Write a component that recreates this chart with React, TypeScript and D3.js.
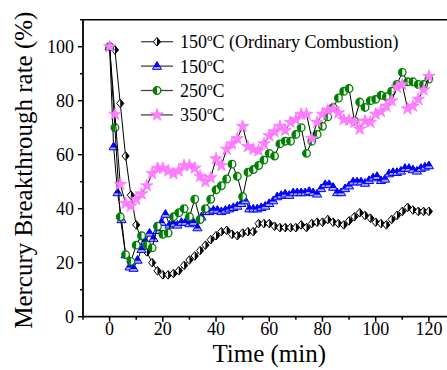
import React from "react";
import * as d3 from "d3";

const TIME = [0,2,4,6,8,10,12,14,16,18,20,22,24,26,28,30,32,34,36,38,40,42,44,46,48,50,52,54,56,58,60,62,64,66,68,70,72,74,76,78,80,82,84,86,88,90,92,94,96,98,100,102,104,106,108,110,112,114,116,118,120];
const TIME_BLUE = [0,1.5,3,4.5,6,7.5,9,10.5,12,13.5,15,16.5,18,19.5,21,22.5,24,25.5,27,28.5,30,31.5,33,34.5,36,37.5,39,40.5,42,43.5,45,46.5,48,49.5,51,52.5,54,55.5,57,58.5,60,61.5,63,64.5,66,67.5,69,70.5,72,73.5,75,76.5,78,79.5,81,82.5,84,85.5,87,88.5,90,91.5,93,94.5,96,97.5,99,100.5,102,103.5,105,106.5,108,109.5,111,112.5,114,115.5,117,118.5,120];

const ORDINARY_150 = [100,98.8,79,59.5,45,34,28,24,20,17,15.5,15.5,16,17,19,21,22.5,24.5,26.5,28.5,30,31.5,32,30.5,30,31,31.5,31.5,34.5,34.5,34.5,33.5,33,33,33,33,34,33,34.5,35,35,36,35,34.5,34,35.5,37,38.5,37.5,36.5,35,34.5,34,36,37.5,39,40.5,39.5,39,39,39];
const SERIES_150 = [100,63,46,36,23,18.5,18,21,25,28,31,29,32,35,38,34,34.5,34,35,35,34.5,35,33,37,39,39,39.5,39.5,39,39.5,40,40.5,41,42,43,40,40,40,40.5,41,42,43,44.5,45,45.5,45,46,46,46,46,46.5,46,45.5,47.5,49,49,48,46,46,47.5,48.5,50,50,50,49.5,50.5,51.5,52,50.5,51,53,53.5,53.5,54,55,55,54.5,54,55,55.5,56];
const SERIES_250 = [100,70,37,23,20.5,26.5,30,26.5,25.5,33.5,30.5,31,37,38.5,40,37,43.5,36,40,43.5,47,48.5,51,56.5,52,44.5,53.5,54.5,56,58,60.5,59.5,64,65,65,67.5,70,60.5,65,67.5,70.5,74,77.5,81,83.5,84.5,72.5,79.5,77.5,80,80.5,82,81.5,83.5,86,90.5,87,87,86,86,88];
const SERIES_350 = [100,75,49,42,41,43.5,45.5,48.5,53,55,55,54,53,54,56,56,55,52,50,51.5,58.5,56,62,64,66,70.5,63,62,61.5,64,67,68.5,70.5,69,72,73,75,75,66,72,75,76.5,77,75.5,73,72.8,72,69.5,72.5,72,75,76,78,80,85,86,77,78,80.5,84,89];

const X_TICKS = [0,20,40,60,80,100,120];
const X_MINOR = [-10,10,30,50,70,90,110,130];
const Y_TICKS = [0,20,40,60,80,100];
const Y_MINOR = [10,30,50,70,90,110];

const LEGEND = ["150", "150", "250", "350"];

const W = 447, H = 370;
const L = 83, R = 455.5, T = 19.7, B = 316.7;
const FONT = "Liberation Serif, Times New Roman, serif";

type Kind = "diamond" | "triangle" | "circle" | "star";

function Marker({ kind, x, y }: { kind: Kind; x: number; y: number }) {
  if (kind === "diamond") {
    return (
      <g transform={`translate(${x},${y})`}>
        <path d="M0,-4.3 L3.6,0 L0,4.3 L-3.6,0 Z" fill="#fff" stroke="#000" strokeWidth={1} />
        <path d="M0,-4.3 L3.6,0 L0,4.3 Z" fill="#000" />
      </g>
    );
  }
  if (kind === "triangle") {
    return (
      <g transform={`translate(${x},${y})`}>
        <path d="M0,-4.5 L4.6,3.2 L-4.6,3.2 Z" fill="#a9a9ff" stroke="#0000ff" strokeWidth={1} />
        <path d="M0,-4.5 L3.1,0.8 L-3.1,0.8 Z" fill="#0000ff" />
      </g>
    );
  }
  if (kind === "circle") {
    return (
      <g transform={`translate(${x},${y})`}>
        <circle r={3.8} fill="#fff" stroke="#008000" strokeWidth={1.3} />
        <path d="M0,-3.8 A3.8,3.8 0 0 0 0,3.8 Z" fill="#008000" />
      </g>
    );
  }
  const star = d3.symbol().type(d3.symbolStar).size(50)();
  return (
    <path d={star || ""} transform={`translate(${x},${y})`} fill="#ff80ff" stroke="#ff66ff" strokeWidth={0.6} />
  );
}

export default function App() {
  const x = d3.scaleLinear().domain([-10, 130]).range([L, R]);
  const y = d3.scaleLinear().domain([0, 110]).range([B, T]);

  const series: { t: number[]; v: number[]; kind: Kind }[] = [
    { t: TIME, v: ORDINARY_150, kind: "diamond" },
    { t: TIME_BLUE, v: SERIES_150, kind: "triangle" },
    { t: TIME, v: SERIES_250, kind: "circle" },
    { t: TIME, v: SERIES_350, kind: "star" },
  ];

  const line = d3
    .line<[number, number]>()
    .x((d) => x(d[0]))
    .y((d) => y(d[1]));

  const legendY = (i: number) => 41.7 + i * 24.4;

  return (
    <svg
      width={W}
      height={H}
      style={{ position: "absolute", left: 0, top: 0, background: "#fff" }}
      fontFamily={FONT}
    >
      <rect x={0} y={0} width={W} height={H} fill="#fff" />
      {series.map((s, si) => {
        const pts = s.t.map((t, i) => [t, s.v[i]] as [number, number]);
        return (
          <g key={si}>
            <path d={line(pts) || ""} fill="none" stroke="#000" strokeWidth={1} />
            {pts.map((p, i) => (
              <Marker key={i} kind={s.kind} x={x(p[0])} y={y(p[1])} />
            ))}
          </g>
        );
      })}

      {/* frame */}
      <line x1={L} x2={W + 5} y1={T} y2={T} stroke="#000" strokeWidth={1.6} />
      <line x1={L} x2={L} y1={T} y2={B} stroke="#000" strokeWidth={1.8} />
      <line x1={L - 1} x2={W + 5} y1={B} y2={B} stroke="#000" strokeWidth={1.8} />

      {/* x ticks */}
      {X_TICKS.map((t) => (
        <g key={"xt" + t}>
          <line x1={x(t)} x2={x(t)} y1={B} y2={B + 5} stroke="#000" strokeWidth={1.5} />
          <text x={x(t)} y={335} fontSize={18} textAnchor="middle" fill="#000">
            {t}
          </text>
        </g>
      ))}
      {X_MINOR.map((t) => (
        <line key={"xm" + t} x1={x(t)} x2={x(t)} y1={B} y2={B + 3} stroke="#000" strokeWidth={1.5} />
      ))}

      {/* y ticks */}
      {Y_TICKS.map((v) => (
        <g key={"yt" + v}>
          <line x1={L - 5} x2={L} y1={y(v)} y2={y(v)} stroke="#000" strokeWidth={1.5} />
          <text x={74} y={y(v) + 6} fontSize={18} textAnchor="end" fill="#000">
            {v}
          </text>
        </g>
      ))}
      {Y_MINOR.map((v) => (
        <line key={"ym" + v} x1={L - 3} x2={L} y1={y(v)} y2={y(v)} stroke="#000" strokeWidth={1.5} />
      ))}

      {/* axis titles */}
      <text x={(L + R) / 2} y={362} fontSize={25} textAnchor="middle" fill="#000">
        Time (min)
      </text>
      <text
        transform={`translate(32,${(T + B) / 2 + 2}) rotate(-90)`}
        fontSize={25}
        textAnchor="middle"
        fill="#000"
      >
        Mercury Breakthrough rate (%)
      </text>

      {/* legend */}
      {series.map((s, i) => (
        <g key={"lg" + i}>
          <line x1={141} x2={173} y1={legendY(i)} y2={legendY(i)} stroke="#444" strokeWidth={1.3} />
          <Marker kind={s.kind} x={157} y={legendY(i)} />
          <text x={180} y={legendY(i) + 6.5} fontSize={18} fill="#000">
            {LEGEND[i]}
            <tspan fontSize={11} dy={-7}>o</tspan>
            <tspan dy={7}>C{i === 0 ? " (Ordinary Combustion)" : ""}</tspan>
          </text>
        </g>
      ))}
    </svg>
  );
}
